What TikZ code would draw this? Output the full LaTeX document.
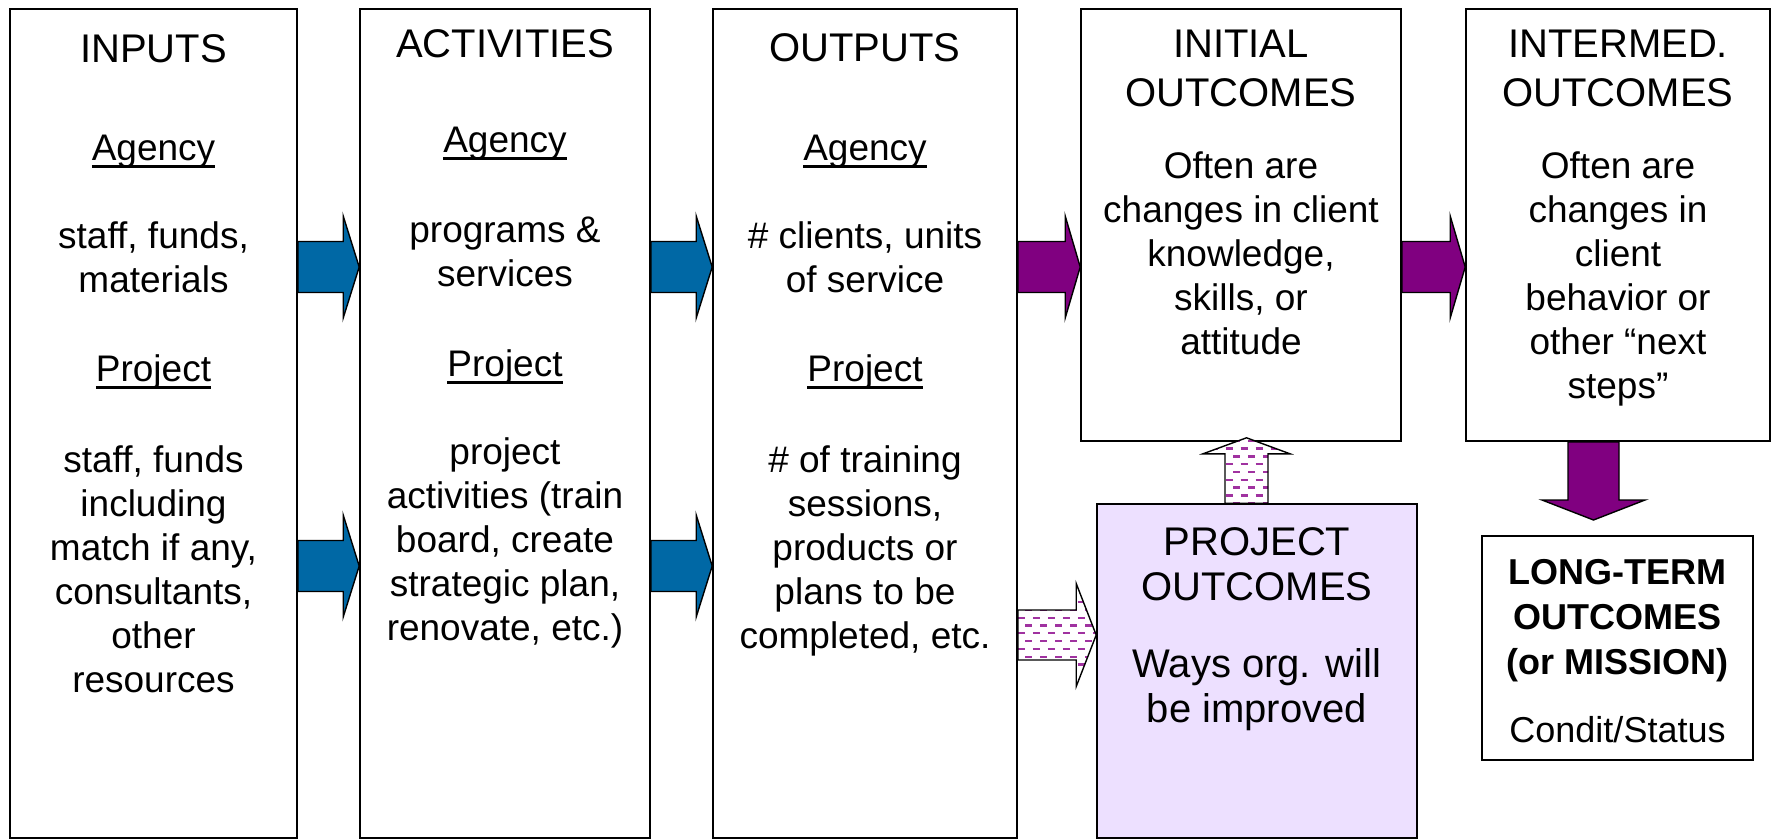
\documentclass[tikz,border=0pt]{standalone}
\usepackage{fontspec}
\setmainfont{Liberation Sans}
\usetikzlibrary{calc}
\definecolor{arrblue}{RGB}{0,104,165}
\definecolor{arrpurple}{RGB}{128,0,128}
\definecolor{dashpurple}{RGB}{160,50,160}
\definecolor{lavender}{RGB}{237,224,255}
\newcommand\ul[1]{\setbox0\hbox{#1}\rlap{\rule[-0.2em]{\wd0}{0.07em}}\box0}
\newcommand\T{\rule{0pt}{0.75em}}
% horizontal block arrow: opts, start, end, dx (head base offset), shaft half, head half
\newcommand\harrow[6]{\path[#1] ($(#2)+(0,-#5)$) -- ($(#3)+(#4,-#5)$) -- ($(#3)+(#4,-#6)$) -- (#3) -- ($(#3)+(#4,#6)$) -- ($(#3)+(#4,#5)$) -- ($(#2)+(0,#5)$) -- cycle;}
% vertical block arrow: opts, start, end, dy (head base offset), shaft half, head half
\newcommand\varrow[6]{\path[#1] ($(#2)+(-#5,0)$) -- ($(#3)+(-#5,#4)$) -- ($(#3)+(-#6,#4)$) -- (#3) -- ($(#3)+(#6,#4)$) -- ($(#3)+(#5,#4)$) -- ($(#2)+(#5,0)$) -- cycle;}
\tikzset{
  box/.style={draw=black, line width=1.6pt, inner sep=0pt},
  ttl/.style={anchor=north, align=center, inner sep=0pt, font=\fontsize{40}{49}\selectfont},
  bdy/.style={anchor=north, align=center, inner sep=0pt, font=\fontsize{37}{44}\selectfont},
  bluearr/.style={draw=black, line width=1.4pt, fill=arrblue, line join=miter},
  purparr/.style={draw=black, line width=1.4pt, fill=arrpurple, line join=miter},
  dasharr/.style={draw=black, line width=1.4pt, fill=white, line join=miter,
    path picture={
      \foreach \k in {0,...,16}{
        \pgfmathsetmacro\ph{mod(\k,2)*7.5}
        \draw[dashpurple, line width=2.3pt, dash pattern=on 7pt off 8pt, dash phase=\ph pt]
          ([yshift=-\k*7.8pt-3pt]path picture bounding box.north west) --
          ([yshift=-\k*7.8pt-3pt]path picture bounding box.north east);
      }}},
}
\begin{document}
\begin{tikzpicture}[x=1pt,y=-1pt]
\useasboundingbox (0,0) rectangle (1772,840);
\fill[white] (0,0) rectangle (1772,840);

% boxes
\node[box, minimum width=287pt, minimum height=829pt] (inputs) at (153.5,423.5) {};
\node[box, minimum width=290pt, minimum height=829pt] (activities) at (505,423.5) {};
\node[box, minimum width=304pt, minimum height=829pt] (outputs) at (865,423.5) {};
\node[box, minimum width=320pt, minimum height=432pt] (initial) at (1241,225) {};
\node[box, minimum width=304pt, minimum height=432pt] (intermed) at (1618,225) {};
\node[box, fill=lavender, minimum width=320pt, minimum height=334pt] (project) at (1257,671) {};
\node[box, minimum width=271pt, minimum height=224pt] (longterm) at (1617.5,648) {};

% INPUTS
\node[ttl] (t1) at (inputs.north |- 0,32) {\T INPUTS};
\node[bdy] (a1) at (inputs.north |- 0,132.6) {\T\ul{Agency}};
\node[bdy] (a1t) at (inputs.north |- 0,220.6) {\T staff, funds,\\materials};
\node[bdy] (p1) at (inputs.north |- 0,353.6) {\T\ul{Project}};
\node[bdy] (p1t) at (inputs.north |- 0,444.6) {\T staff, funds\\including\\match if any,\\consultants,\\other\\resources};

% ACTIVITIES
\node[ttl] (t2) at (activities.north |- 0,27.4) {\T ACTIVITIES};
\node[bdy] (a2) at (activities.north |- 0,124.6) {\T\ul{Agency}};
\node[bdy] (a2t) at (activities.north |- 0,214.6) {\T programs \&\\services};
\node[bdy] (p2) at (activities.north |- 0,348.6) {\T\ul{Project}};
\node[bdy] (p2t) at (activities.north |- 0,436.6) {\T project\\activities (train\\board, create\\strategic plan,\\renovate, etc.)};

% OUTPUTS
\node[ttl] (t3) at (outputs.north |- 0,31.4) {\T OUTPUTS};
\node[bdy] (a3) at (outputs.north |- 0,132.6) {\T\ul{Agency}};
\node[bdy] (a3t) at (outputs.north |- 0,220.6) {\T\# clients, units\\of service};
\node[bdy] (p3) at (outputs.north |- 0,353.6) {\T\ul{Project}};
\node[bdy] (p3t) at (outputs.north |- 0,444.6) {\T\# of training\\sessions,\\products or\\plans to be\\completed, etc.};

% INITIAL OUTCOMES
\node[ttl] (t4) at (initial.north |- 0,27.4) {\T INITIAL\\OUTCOMES};
\node[bdy] (b4) at (initial.north |- 0,150.6) {\T Often are\\changes in client\\knowledge,\\skills, or\\attitude};

% INTERMED OUTCOMES
\node[ttl] (t5) at (intermed.north |- 0,27.4) {\T INTERMED.\\OUTCOMES};
\node[bdy] (b5) at (intermed.north |- 0,150.6) {\T Often are\\changes in\\client\\behavior or\\other “next\\steps”};

% PROJECT OUTCOMES
\node[ttl, font=\fontsize{40}{45}\selectfont] (t6) at (project.north |- 0,525.4) {\T PROJECT\\OUTCOMES};
\node[ttl, font=\fontsize{40}{45}\selectfont] (b6) at (project.north |- 0,647.4) {\T Ways org. will\\be improved};

% LONG-TERM
\node[bdy, font=\fontsize{36}{45}\selectfont\bfseries] (t7) at (longterm.north |- 0,557) {\T LONG-TERM\\OUTCOMES\\(or MISSION)};
\node[bdy, font=\fontsize{36}{45}\selectfont] (b7) at (longterm.north |- 0,715) {\T Condit/Status};

% arrow end coordinates
\coordinate (ba1s) at (inputs.east |- 0,267);
\coordinate (ba1e) at (activities.west |- 0,267);
\coordinate (ba2s) at (inputs.east |- 0,566);
\coordinate (ba2e) at (activities.west |- 0,566);
\coordinate (ba3s) at (activities.east |- 0,267);
\coordinate (ba3e) at (outputs.west |- 0,267);
\coordinate (ba4s) at (activities.east |- 0,566);
\coordinate (ba4e) at (outputs.west |- 0,566);
\coordinate (pa1s) at (outputs.east |- 0,267);
\coordinate (pa1e) at (initial.west |- 0,267);
\coordinate (pa2s) at (initial.east |- 0,267);
\coordinate (pa2e) at (intermed.west |- 0,267);
\coordinate (das) at (outputs.east |- 0,635);
\coordinate (dae) at (project.west |- 0,635);
\coordinate (ups) at (1246.5,0 |- project.north);
\coordinate (upe) at ($(1246.5,0 |- initial.south)+(0,-4)$);
\coordinate (dns) at (1593.5,0 |- intermed.south);
\coordinate (dne) at (1593.5,520);

\harrow{bluearr}{ba1s}{ba1e}{-16}{25.5}{51}
\harrow{bluearr}{ba2s}{ba2e}{-16}{25.5}{51}
\harrow{bluearr}{ba3s}{ba3e}{-16}{25.5}{51}
\harrow{bluearr}{ba4s}{ba4e}{-16}{25.5}{51}
\harrow{purparr}{pa1s}{pa1e}{-15}{25.5}{51}
\harrow{purparr}{pa2s}{pa2e}{-15}{25.5}{51}
\harrow{dasharr}{das}{dae}{-20}{25}{51.5}
\varrow{dasharr}{ups}{upe}{16}{21.5}{43.5}
\varrow{purparr}{dns}{dne}{-20}{25.5}{51.5}
\end{tikzpicture}
\end{document}
